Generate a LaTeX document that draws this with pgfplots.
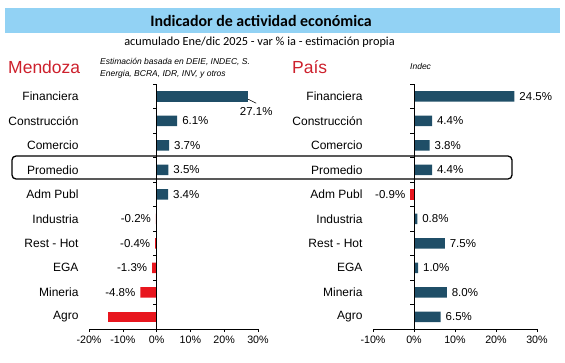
\documentclass[border=0pt]{standalone}
\usepackage{pgfplots}
\pgfplotsset{compat=1.18}
\usepackage{fontspec}
\setmainfont{Liberation Sans}
\newfontfamily\calibri{Carlito}
\definecolor{barblue}{RGB}{31,78,103}
\definecolor{barred}{RGB}{232,22,30}
\definecolor{titred}{RGB}{205,32,44}
\definecolor{band}{RGB}{146,210,244}
\pgfplotsset{
 mystyle/.style={
  scale only axis, anchor=south west,
  xbar, bar width=10.5pt,
  ymin=-0.5, ymax=9.5,
  ytick={0,...,9},
  yticklabels={Agro,Mineria,EGA,Rest - Hot,Industria,Adm Publ,Promedio,Comercio,Construcción,Financiera},
  axis x line*=bottom, axis y line*=left,
  y axis line style={draw=none},
  ytick style={draw=none},
  xtick style={draw=black, line width=0.6pt},
  x axis line style={line width=0.6pt},
  tick align=outside, major tick length=3pt,
  xticklabel={\pgfmathprintnumber{\tick}\%},
  xticklabel style={font=\fontsize{10.7}{12}\selectfont},
  yticklabel style={font=\fontsize{12}{14}\selectfont, xshift=-4pt},
  /pgf/number format/assume math mode=true,
  clip=false,
 },
 posbar/.style={barblue, fill=barblue, draw=none, bar shift=0pt,
  nodes near coords={\pgfmathprintnumber[fixed,fixed zerofill,precision=1]{\pgfplotspointmeta}\%},
  every node near coord/.style={anchor=west, xshift=1.5pt, font=\fontsize{11.5}{13}\selectfont, text=black}},
 negbar/.style={barred, fill=barred, draw=none, bar shift=0pt,
  nodes near coords={\pgfmathprintnumber[fixed,fixed zerofill,precision=1]{\pgfplotspointmeta}\%},
  every node near coord/.style={anchor=east, xshift=-1.5pt, font=\fontsize{11.5}{13}\selectfont, text=black}},
}
\begin{document}
\begin{tikzpicture}[x=1pt,y=1pt]
\useasboundingbox (0,0) rectangle (565,362);
\fill[band] (5,329) rectangle (560,354);
\node[font=\calibri\bfseries\fontsize{15.9}{18}\selectfont] at (261,341.5) {Indicador de actividad económica};
\node[font=\calibri\fontsize{12.3}{14}\selectfont] at (259.5,320) {acumulado Ene/dic 2025 - var \% ia - estimación propia};
\node[anchor=west, text=titred, font=\fontsize{17.5}{20}\selectfont, inner sep=0] at (8,295) {Mendoza};
\node[anchor=west, text=titred, font=\fontsize{17.5}{20}\selectfont, inner sep=0] at (292,295) {País};
\node[anchor=north west, align=left, font=\itshape\fontsize{8.5}{12}\selectfont, inner sep=0] at (100,304) {Estimación basada en DEIE, INDEC, S.\\Energia, BCRA, IDR, INV, y otros};
\node[anchor=west, font=\itshape\fontsize{8.5}{12}\selectfont, inner sep=0] at (410,296) {Indec};

\begin{axis}[mystyle, at={(89pt,33pt)}, width=169pt, height=245pt,
  xmin=-20, xmax=30, xtick={-20,-10,0,10,20,30}]
\addplot[posbar] coordinates {(6.1,8) (3.7,7) (3.5,6) (3.4,5)};
\addplot[barblue, fill=barblue, draw=none, bar shift=0pt] coordinates {(27.1,9)};
\addplot[negbar] coordinates {(-0.2,4) (-0.4,3) (-1.3,2) (-4.8,1)};
\addplot[barred, fill=barred, draw=none, bar shift=0pt] coordinates {(-14.3,0)};
\draw[line width=0.6pt] (axis cs:0,-0.5) -- (axis cs:0,9.5);
\pgfplotsinvokeforeach{-0.5,0.5,1.5,2.5,3.5,4.5,5.5,6.5,7.5,8.5,9.5}{\draw[line width=0.6pt] (axis cs:0,#1) -- ++(-4pt,0pt);}
\draw[line width=0.5pt] (axis cs:27.1,9) ++(0pt,-3pt) -- ++(8pt,-4pt);
\node[font=\fontsize{11.5}{13}\selectfont] at (axis cs:27.1,9) [xshift=8pt, yshift=-15pt] {27.1\%};
\end{axis}

\begin{axis}[mystyle, at={(373pt,33pt)}, width=164pt, height=245pt,
  xmin=-10, xmax=30, xtick={-10,0,10,20,30}]
\addplot[posbar] coordinates {(24.5,9) (4.4,8) (3.8,7) (4.4,6) (0.8,4) (7.5,3) (1.0,2) (8.0,1) (6.5,0)};
\addplot[negbar] coordinates {(-0.9,5)};
\draw[line width=0.6pt] (axis cs:0,-0.5) -- (axis cs:0,9.5);
\pgfplotsinvokeforeach{-0.5,0.5,1.5,2.5,3.5,4.5,5.5,6.5,7.5,8.5,9.5}{\draw[line width=0.6pt] (axis cs:0,#1) -- ++(-4pt,0pt);}
\end{axis}

\draw[line width=1.3pt, rounded corners=4pt] (12,183) rectangle (512,206);
\end{tikzpicture}
\end{document}
